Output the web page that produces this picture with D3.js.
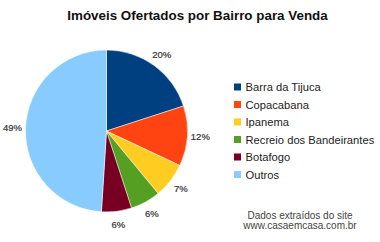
<!DOCTYPE html>
<html>
<head>
<meta charset="utf-8">
<script src="https://cdn.jsdelivr.net/npm/d3@7"></script>
<style>
  body { margin: 0; background: #fff; }
  svg { display: block; font-family: Arial, "Liberation Sans", sans-serif; }
</style>
</head>
<body>
<svg id="chart" width="380" height="242"></svg>
<script>
// data
const bairros = ["Barra da Tijuca", "Copacabana", "Ipanema", "Recreio dos Bandeirantes", "Botafogo", "Outros"];
const percentuais = [20, 12, 7, 6, 6, 49];
const cores = ["#004080", "#ff4411", "#ffcc22", "#55a022", "#770022", "#88ccff"];

const svg = d3.select("#chart");

// title
svg.append("text")
    .attr("x", 197.5)
    .attr("y", 20)
    .attr("text-anchor", "middle")
    .attr("font-size", "13.4px")
    .attr("font-weight", "bold")
    .attr("fill", "#111")
    .text("Imóveis Ofertados por Bairro para Venda");

// pie
const cx = 106.5, cy = 131, radius = 81, labelRadius = 94;
const slices = bairros.map((b, i) => ({ bairro: b, valor: percentuais[i], cor: cores[i] }));

const pie = d3.pie().sort(null).value(d => d.valor);
const arc = d3.arc().innerRadius(0).outerRadius(radius);
const labelArc = d3.arc().innerRadius(labelRadius).outerRadius(labelRadius);

const pieGroup = svg.append("g").attr("transform", `translate(${cx},${cy})`);
const arcs = pie(slices);

pieGroup.selectAll("path")
    .data(arcs)
    .enter()
    .append("path")
    .attr("d", arc)
    .attr("fill", d => d.data.cor)
    .attr("stroke", "#fff")
    .attr("stroke-width", 0.5);

pieGroup.selectAll(".pct")
    .data(arcs)
    .enter()
    .append("text")
    .attr("class", "pct")
    .attr("transform", d => `translate(${labelArc.centroid(d)})`)
    .attr("text-anchor", "middle")
    .attr("dy", "0.35em")
    .attr("font-size", "9.5px")
    .attr("fill", "#333")
    .attr("stroke", "#333")
    .attr("stroke-width", 0.2)
    .text(d => d.data.valor + "%");

// legend
const legend = svg.append("g").attr("transform", "translate(234,87)");
const item = legend.selectAll(".legend-item")
    .data(slices)
    .enter()
    .append("g")
    .attr("class", "legend-item")
    .attr("transform", (d, i) => `translate(0,${i * 17.5})`);

item.append("rect")
    .attr("x", 0)
    .attr("y", -3.5)
    .attr("width", 7)
    .attr("height", 7)
    .attr("fill", d => d.cor);

item.append("text")
    .attr("x", 11.5)
    .attr("y", 0)
    .attr("dy", "0.36em")
    .attr("font-size", "11.2px")
    .attr("fill", "#222")
    .text(d => d.bairro);

// source note
const fonte = ["Dados extraídos do site", "www.casaemcasa.com.br"];
svg.selectAll(".fonte")
    .data(fonte)
    .enter()
    .append("text")
    .attr("class", "fonte")
    .attr("x", 300)
    .attr("y", (d, i) => 219 + i * 10)
    .attr("text-anchor", "middle")
    .attr("font-size", "10px")
    .attr("fill", "#444")
    .text(d => d);
</script>
</body>
</html>
